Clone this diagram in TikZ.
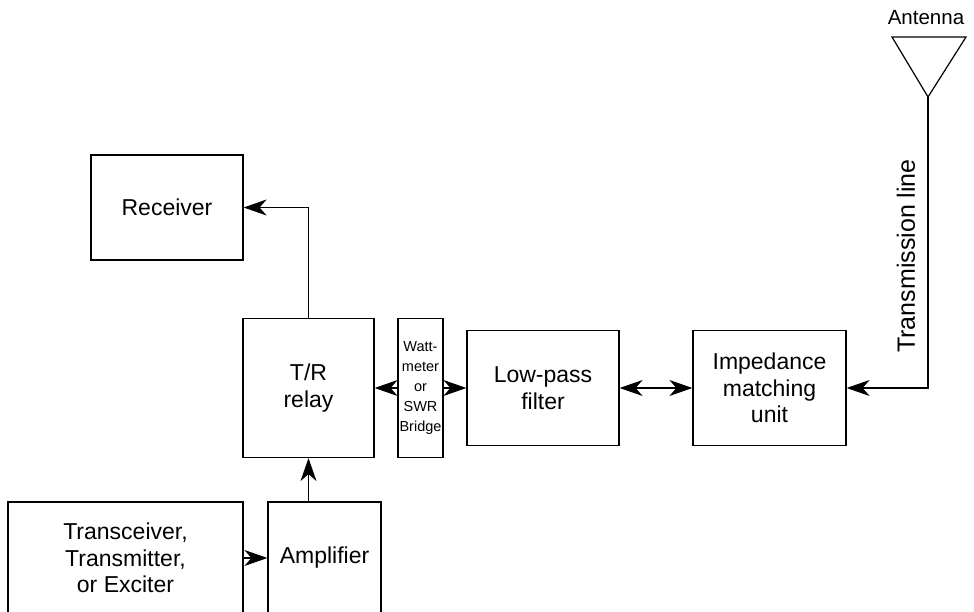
\documentclass[tikz,border=0pt]{standalone}
\usepackage{fontspec}
\setmainfont{Liberation Sans}
\usetikzlibrary{arrows.meta}
\begin{document}
\begin{tikzpicture}[x=1pt,y=-1pt, line width=1.2pt,
  blk/.style={draw, rectangle, inner sep=0pt, align=center, font=\fontsize{23}{26.5}\selectfont},
  small/.style={draw, rectangle, inner sep=0pt, align=center, font=\fontsize{14.5}{20}\selectfont},
  tipx/.tip={Stealth[length=23pt,width=16pt,inset=7pt]},
  arr/.style={-tipx},
  darr/.style={tipx-tipx}]
\useasboundingbox (0,0) rectangle (974,612);
\clip (0,0) rectangle (974,612);
\node[blk, minimum width=152pt, minimum height=105pt] (rx) at (167,207.5) {Receiver};
\node[blk, minimum width=131pt, minimum height=139pt] (tr) at (308.5,388) {T/R\\relay};
\node[small, minimum width=45pt, minimum height=139pt] (wm) at (420.5,388) {Watt-\\meter\\or\\SWR\\Bridge};
\node[blk, minimum width=152pt, minimum height=115pt] (lp) at (543,388) {Low-pass\\filter};
\node[blk, minimum width=153pt, minimum height=115pt] (im) at (769.5,388) {Impedance\\matching\\unit};
\node[blk, minimum width=235pt, minimum height=112pt] (tx) at (125.5,558) {Transceiver,\\Transmitter,\\or Exciter};
\node[blk, minimum width=113pt, minimum height=112pt] (amp) at (324.5,558) {Amplifier};
\coordinate (apex) at (928,97);
\coordinate (al) at (892,37);
\coordinate (ar) at (966,37);
\draw (al) -- (ar) -- (apex) -- cycle;
\node[font=\fontsize{20.5}{24}\selectfont] (antl) at (926,18) {Antenna};
\node[rotate=90, font=\fontsize{25}{28}\selectfont] (tl) at (906,256) {Transmission line};
\draw[arr] (tr.north) |- (rx.east);
\draw[arr] (wm.west) -- (tr.east);
\draw[arr] (wm.east) -- (lp.west);
\draw[darr] (lp.east) -- (im.west);
\draw[arr] (apex) |- (im.east);
\draw[arr] (tx.east) -- (amp.west);
\draw[arr] (amp.north -| tr.south) -- (tr.south);
\end{tikzpicture}
\end{document}
